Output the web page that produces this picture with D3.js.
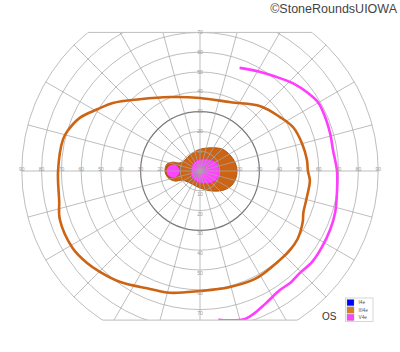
<!DOCTYPE html>
<html><head><meta charset="utf-8">
<script src="https://cdn.jsdelivr.net/npm/d3@7"></script>
<style>body{margin:0;background:#fff}svg{display:block}</style>
</head><body><svg id="c" width="400" height="352"></svg>
<script>
// ---- grid definition ----
const ringDegrees = [10,20,30,40,50,60,70,80,90];
const meridianAngles = [0,15,30,45,60,75,90,105,120,135,150,165,180,195,210,225,240,255,270,285,300,315,330,345];
const hTickLabels = [20,30,40,50,60,70,80,90];
const vTickLabels = [10,20,30,40,50,60,70];
const legendLabels = ["I4e","III4e","V4e"];
const legendColors = ["#0000ff","#d2802e","#ff44ff"];
const eyeLabel = "OS";
const copyright = "\u00A9StoneRoundsUIOWA";
// ---- isopters: [meridian angle (deg, CCW from right), eccentricity (deg)] ----
const iii4eOuter = [[0,54.5],[6,54.3],[15,53.4],[25,52],[34,48.7],[47,44.7],[66,38],[90,36.9],[112,40.3],[130,47.3],[142,55.8],[149,60.5],[156,66.3],[163,69.8],[167,71],[180,71.7],[192,72.7],[199,74.9],[211,75.2],[219,73.6],[225,71.8],[234,69.1],[247,64.7],[256,63.4],[270,60.6],[284,60.5],[297,61.2],[312,60.4],[319,60.5],[325,60.1],[329,59.2],[334,57.8],[338,56.3],[345,55.6],[355,55.7]];
const iii4eCentral = [[180,17.7],[168,17],[162,14.4],[158,10.9],[144,9.4],[122,9.5],[95,10.7],[67,12.7],[45,15.7],[28,17.2],[14,18.2],[2,18.7],[-11,18.5],[-24,17.6],[-38,15.5],[-59,11.8],[-90,8.6],[-130,7.9],[-153,10.2],[-158,13.6],[-168,16.5]];
const v4eOuter = [[69,55.8],[59,58.5],[49,62],[43,64.7],[36,67.2],[30,69],[23,68.8],[16,68.4],[9,68],[0,69.2],[-8,69.9],[-17,71.4],[-24,72.1],[-32,72.6],[-39,72.9],[-46,72.1],[-51,72.6],[-56,72.4],[-64,74.8],[-69,76.9],[-73,78.1],[-79,76.8],[-83,75.7]];
const v4eCentral = [[180,4.5],[135,5],[100,5.6],[67,6.6],[42,8.2],[25,9.5],[9,9.7],[-12,9.8],[-29,9.3],[-50,7.9],[-76,6.5],[-112,5.4],[-143,5.1]];
const v4eSpots = [[180,13.6,3.6]]; // [angle, eccentricity, radius]
const topLimit = 70, bottomLimit = 75.3;

const cx = 200, cy = 171;
const r = d3.scaleLinear().domain([0,90]).range([0,178.2]);
const rad = d => d*Math.PI/180;
const px = ([a,e]) => [cx + r(e)*Math.cos(rad(a)), cy - r(e)*Math.sin(rad(a))];

const svg = d3.select("#c");
const defs = svg.append("defs");
defs.append("clipPath").attr("id","clipR").append("rect")
  .attr("x",0).attr("y",cy - r(topLimit)).attr("width",400).attr("height", r(topLimit)+r(bottomLimit));
defs.append("clipPath").attr("id","clipC").append("circle")
  .attr("cx",cx).attr("cy",cy).attr("r",r(90)+1.5);

const field = svg.append("g").attr("clip-path","url(#clipR)").append("g").attr("clip-path","url(#clipC)");

const open = d3.line().x(d=>px(d)[0]).y(d=>px(d)[1]).curve(d3.curveCatmullRom.alpha(0.5));
const closedLine = d3.line().x(d=>px(d)[0]).y(d=>px(d)[1]).curve(d3.curveCatmullRomClosed.alpha(0.5));

// central fills
field.append("path").attr("d", closedLine(iii4eCentral))
  .attr("fill","#cc6414").attr("stroke","#b4560f").attr("stroke-width",1);
field.append("path").attr("d", closedLine(v4eCentral))
  .attr("fill","#ff44ff").attr("stroke","#e030e0").attr("stroke-width",0.8);
field.selectAll("circle.spot").data(v4eSpots).join("circle").attr("class","spot")
  .attr("cx", d=>px(d)[0]).attr("cy", d=>px(d)[1]).attr("r", d=>r(d[2]))
  .attr("fill","#ff44ff").attr("stroke","#b4560f").attr("stroke-width",1.2);

// grid
const grid = field.append("g").attr("fill","none");
grid.selectAll("circle").data(ringDegrees).join("circle")
  .attr("cx",cx).attr("cy",cy).attr("r", d=>r(d))
  .attr("stroke", d=> d===30 ? "#7a7a7a" : "#a8a8a8")
  .attr("stroke-opacity", d=> d===30 ? 1 : 0.75)
  .attr("stroke-width", d=> d===30 ? 1.2 : 1);
grid.selectAll("line").data(meridianAngles).join("line")
  .attr("x1",cx).attr("y1",cy)
  .attr("x2", d=>px([d,90])[0]).attr("y2", d=>px([d,90])[1])
  .attr("stroke","#a8a8a8").attr("stroke-opacity",0.75).attr("stroke-width",1);

// frame top / bottom chords
[[topLimit,-1],[bottomLimit,1]].forEach(([lim,s])=>{
  const y = cy + s*r(lim);
  const hw = Math.sqrt(r(90)*r(90) - r(lim)*r(lim));
  svg.append("line").attr("x1",cx-hw).attr("x2",cx+hw).attr("y1",y).attr("y2",y)
    .attr("stroke","#bdbdbd").attr("stroke-width",1);
});

// outer isopters
field.append("path").attr("d", closedLine(iii4eOuter))
  .attr("fill","none").attr("stroke","#cc6414").attr("stroke-width",2.6);
field.append("path").attr("d", open(v4eOuter))
  .attr("fill","none").attr("stroke","#ff3cff").attr("stroke-width",2.6);

// tick labels
const lab = svg.append("g").attr("font-family","Liberation Sans, Arial, sans-serif")
  .attr("font-size",5).attr("fill","#999").attr("text-anchor","middle");
hTickLabels.forEach(v=>{
  [-1,1].forEach(s=>{
    lab.append("text").attr("x", cx + s*r(v)).attr("y", cy-0.5).text(v);
  });
});
vTickLabels.forEach(v=>{
  lab.append("text").attr("x",cx).attr("y", cy - r(v) + 1.5).text(v);
  lab.append("text").attr("x",cx).attr("y", cy + r(v) + 5).text(v);
});

// copyright
svg.append("text").attr("x",397).attr("y",13).attr("text-anchor","end")
  .attr("font-family","Liberation Sans, Arial, sans-serif").attr("font-size",12.5)
  .attr("fill","#444").text(copyright);

// eye label
svg.append("text").attr("x",322).attr("y",320)
  .attr("font-family","Liberation Sans, Arial, sans-serif").attr("font-size",10)
  .attr("fill","#333").text(eyeLabel);

// legend
const lg = svg.append("g").attr("transform","translate(345.5,298)");
lg.append("rect").attr("width",27.5).attr("height",23.5).attr("fill","#fff").attr("stroke","#ccc").attr("stroke-width",0.8);
const ly = d3.scaleBand().domain(legendLabels).range([1.5,22.5]).paddingInner(0.15);
lg.selectAll("rect.sw").data(legendLabels).join("rect").attr("class","sw")
  .attr("x",1.5).attr("y",d=>ly(d)).attr("width",7).attr("height",ly.bandwidth())
  .attr("fill",(d,i)=>legendColors[i]).attr("stroke","#888").attr("stroke-width",0.3);
lg.selectAll("text").data(legendLabels).join("text")
  .attr("x",13).attr("y",d=>ly(d)+ly.bandwidth()/2+1.7)
  .attr("font-family","Liberation Sans, Arial, sans-serif").attr("font-size",4.8).attr("fill","#555")
  .text(d=>d);
</script></body></html>
